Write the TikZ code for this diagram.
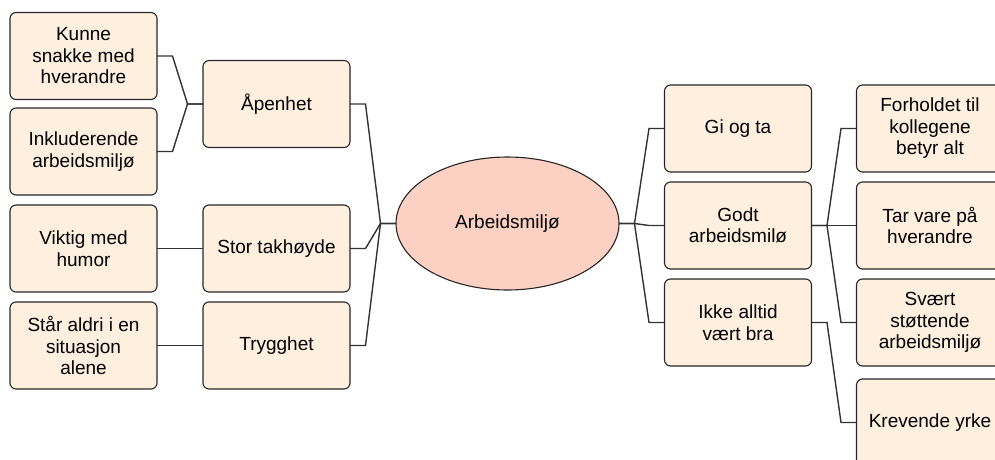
\documentclass[tikz,border=0pt]{standalone}
\usepackage{fontspec}
\setmainfont{Liberation Sans}
\usetikzlibrary{shapes.geometric, positioning}

\definecolor{boxfill}{HTML}{FEEFDF}
\definecolor{centrefill}{HTML}{FCD1C3}
\definecolor{linegrey}{HTML}{333333}

\tikzset{
  topic/.style={draw=black!85, fill=boxfill, rectangle, rounded corners=6pt, line width=1.1pt,
    minimum width=147pt, minimum height=87pt, outer sep=0pt, align=center},
  link/.style={draw=linegrey, line width=1.4pt},
  branch/.style={to path={-- ++(15.5pt,0) -- ([xshift=-15.5pt]\tikztotarget) -- (\tikztotarget)}}
}

\begin{document}
\begin{tikzpicture}[x=1pt, y=1pt, font=\fontsize{19}{21.5}\selectfont]
  \path[use as bounding box] (0,0) rectangle (995,-460);
  \clip (0,0) rectangle (995,-460);

  % Centre: Arbeidsmiljø
  \node[draw=black!85, fill=centrefill, ellipse, line width=1.1pt, minimum width=223pt,
    minimum height=133pt, outer sep=0pt] (centre) at (507.5,-223.5) {Arbeidsmiljø};

  % Left side, outer column
  \node[topic] (kunne) at (83.5,-56) {Kunne\\snakke med\\hverandre};
  \node[topic, below=8.5pt of kunne] (inkl) {Inkluderende\\arbeidsmiljø};
  \node[topic, below=10pt of inkl] (viktig) {Viktig med\\humor};
  \node[topic, below=10pt of viktig] (staar) {Står aldri i en\\situasjon\\alene};

  % Left side, inner column
  \node[topic] (apen) at (276.5,-104) {Åpenhet};
  \node[topic, right=46pt of viktig] (stor) {Stor takhøyde};
  \node[topic, right=46pt of staar] (trygg) {Trygghet};

  % Right side, inner column
  \node[topic] (gi) at (738,-128.5) {Gi og ta};
  \node[topic, below=10pt of gi] (godt) {Godt\\arbeidsmilø};
  \node[topic, below=10pt of godt] (ikke) {Ikke alltid\\vært bra};

  % Right side, outer column
  \node[topic, right=45pt of gi] (forhold) {Forholdet til\\kollegene\\betyr alt};
  \node[topic, right=45pt of godt] (tarvare) {Tar vare på\\hverandre};
  \node[topic, right=45pt of ikke] (svaert) {Svært\\støttende\\arbeidsmiljø};
  \node[topic, below=13pt of svaert] (krevende) {Krevende yrke};

  % Connectors
  \draw[link] (kunne.east) to[branch] (apen.west);
  \draw[link] (inkl.east) to[branch] (apen.west);
  \draw[link] (viktig.east) to[branch] (stor.west);
  \draw[link] (staar.east) to[branch] (trygg.west);
  \draw[link] (apen.east) to[branch] (centre.west);
  \draw[link] (stor.east) to[branch] (centre.west);
  \draw[link] (trygg.east) to[branch] (centre.west);
  \draw[link] (centre.east) to[branch] (gi.west);
  \draw[link] (centre.east) to[branch] (godt.west);
  \draw[link] (centre.east) to[branch] (ikke.west);
  \draw[link] (godt.east) to[branch] (forhold.west);
  \draw[link] (godt.east) to[branch] (tarvare.west);
  \draw[link] (godt.east) to[branch] (svaert.west);
  \draw[link] (ikke.east) to[branch] (krevende.west);
\end{tikzpicture}
\end{document}
